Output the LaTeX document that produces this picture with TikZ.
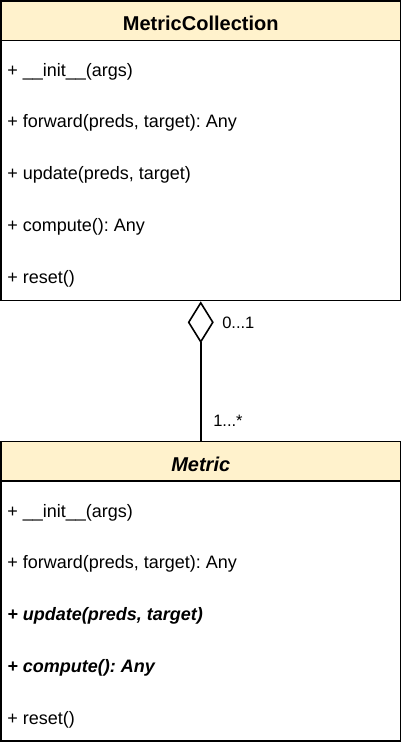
\documentclass[tikz,border=0pt]{standalone}
\usepackage{fontspec}
\setmainfont{Liberation Sans}
\frenchspacing
\usetikzlibrary{arrows.meta}
\definecolor{hdrfill}{HTML}{FFF2CC}
\begin{document}
\begin{tikzpicture}[x=1pt, y=-1pt, line width=1.6pt,
    classbox/.style={draw, fill=white, inner sep=0, minimum width=399.5pt, minimum height=299.5pt},
    classhdr/.style={draw, fill=hdrfill, inner sep=0, minimum width=399.5pt, minimum height=39.5pt},
    classname/.style={anchor=base, inner sep=0, font=\fontsize{20}{24}\selectfont\bfseries},
    member/.style={anchor=base west, inner sep=0, font=\fontsize{18}{22}\selectfont},
    absmember/.style={anchor=base west, inner sep=0, font=\fontsize{18}{22}\selectfont\bfseries\itshape},
    mult/.style={anchor=base west, inner sep=0, font=\fontsize{16.5}{20}\selectfont}]
  \useasboundingbox (0,0) rectangle (402,742);
  % container class
  \node[classbox] (coll) at (200.75,150.75) {};
  \node[classhdr, anchor=north] (collhdr) at (coll.north) {};
  \node[classname] (collname) at (200.75,30.5) {MetricCollection};
  \foreach \m [count=\i from 0] in {{+ \_\_init\_\_(args)}, {+ forward(preds, target): Any}, {+ update(preds, target)}, {+ compute(): Any}, {+ reset()}}
    {\node[member] (coll-\i) at (6.5,76+51.75*\i) {\m};}
  % abstract metric class
  \node[classbox] (metric) at (200.75,591.25) {};
  \node[classhdr, anchor=north] (metrichdr) at (metric.north) {};
  \node[classname, font=\fontsize{20}{24}\selectfont\bfseries\itshape] (metricname) at (200.75,471.5) {Metric};
  \node[member] (metric-0) at (6.5,517) {+ \_\_init\_\_(args)};
  \node[member] (metric-1) at (6.5,568.75) {+ forward(preds, target): Any};
  \node[absmember] (metric-2) at (6.5,620.5) {+ update(preds, target)};
  \node[absmember] (metric-3) at (6.5,672.25) {+ compute(): Any};
  \node[member] (metric-4) at (6.5,724) {+ reset()};
  % aggregation
  \draw[-{Diamond[open, length=42pt, width=26pt]}] (metric.north) -- (coll.south);
  \node[mult] (collmult) at (221.5,328.3) {0...1};
  \node[mult] (metricmult) at (212.5,426.5) {1...*};
\end{tikzpicture}
\end{document}
